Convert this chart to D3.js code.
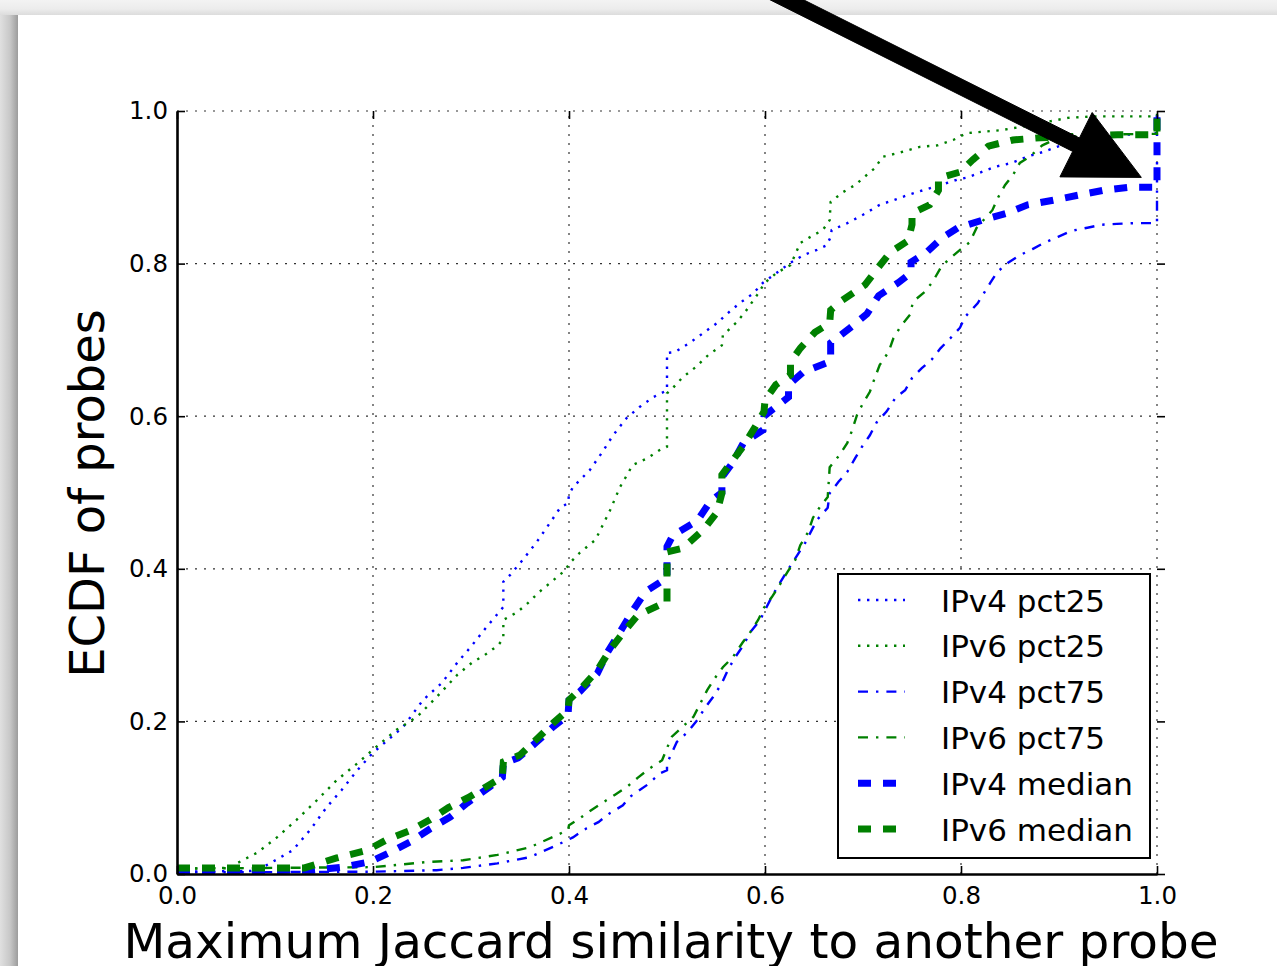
<!DOCTYPE html>
<html>
<head>
<meta charset="utf-8">
<script src="https://cdn.jsdelivr.net/npm/d3@7"></script>
<style>
  html, body { margin: 0; padding: 0; background: #efefef; overflow: hidden; }
  svg { display: block; }
  text { font-family: "DejaVu Sans", sans-serif; fill: #000; }
</style>
</head>
<body>
<svg id="chart" width="1277" height="966"></svg>
<script>
// ---- data: ECDF curves as [similarity, fraction of probes] ----
const xTicks = [0.0, 0.2, 0.4, 0.6, 0.8, 1.0];
const yTicks = [0.0, 0.2, 0.4, 0.6, 0.8, 1.0];

const ipv4Pct25 = [[0,0.003],[0.08,0.004],[0.095,0.014],[0.118,0.031],[0.136,0.058],[0.153,0.088],[0.168,0.11],[0.184,0.136],[0.2,0.159],[0.231,0.193],[0.251,0.228],[0.27,0.25],[0.286,0.277],[0.3,0.298],[0.316,0.324],[0.322,0.333],[0.333,0.35],[0.333,0.383],[0.34,0.392],[0.353,0.412],[0.367,0.435],[0.381,0.461],[0.391,0.48],[0.399,0.486],[0.4,0.497],[0.404,0.507],[0.421,0.529],[0.434,0.553],[0.445,0.575],[0.459,0.598],[0.472,0.612],[0.486,0.625],[0.5,0.634],[0.5,0.683],[0.508,0.684],[0.523,0.696],[0.537,0.709],[0.551,0.722],[0.562,0.735],[0.574,0.748],[0.588,0.761],[0.598,0.775],[0.612,0.788],[0.626,0.801],[0.639,0.811],[0.653,0.818],[0.663,0.824],[0.667,0.835],[0.668,0.844],[0.684,0.853],[0.7,0.864],[0.717,0.877],[0.731,0.883],[0.746,0.89],[0.761,0.896],[0.779,0.903],[0.796,0.91],[0.807,0.913],[0.819,0.919],[0.835,0.927],[0.852,0.932],[0.867,0.94],[0.883,0.946],[0.898,0.953],[0.913,0.959],[0.94,0.964],[0.97,0.969],[0.993,0.971],[1.0,0.971],[1.0,1.0]];

const ipv6Pct25 = [[0,0.007],[0.055,0.008],[0.061,0.014],[0.082,0.028],[0.102,0.048],[0.122,0.071],[0.143,0.097],[0.163,0.123],[0.184,0.145],[0.2,0.163],[0.224,0.189],[0.245,0.206],[0.265,0.232],[0.286,0.261],[0.301,0.277],[0.314,0.287],[0.328,0.3],[0.333,0.309],[0.333,0.333],[0.347,0.343],[0.358,0.355],[0.37,0.37],[0.384,0.385],[0.396,0.398],[0.401,0.408],[0.411,0.421],[0.427,0.438],[0.442,0.477],[0.452,0.507],[0.465,0.536],[0.48,0.545],[0.493,0.556],[0.5,0.56],[0.5,0.63],[0.506,0.637],[0.516,0.651],[0.529,0.664],[0.542,0.68],[0.556,0.693],[0.557,0.706],[0.571,0.723],[0.58,0.737],[0.592,0.759],[0.6,0.775],[0.612,0.788],[0.626,0.798],[0.636,0.827],[0.649,0.837],[0.659,0.844],[0.666,0.857],[0.667,0.881],[0.68,0.894],[0.692,0.903],[0.7,0.912],[0.712,0.925],[0.72,0.94],[0.736,0.945],[0.758,0.953],[0.776,0.955],[0.792,0.962],[0.806,0.971],[0.842,0.975],[0.873,0.982],[0.909,0.991],[0.935,0.993],[0.99,0.993],[1.0,0.993],[1.0,1.0]];

const ipv4Pct75 = [[0,0.002],[0.2,0.003],[0.265,0.005],[0.292,0.008],[0.327,0.014],[0.36,0.022],[0.388,0.038],[0.404,0.048],[0.418,0.06],[0.43,0.068],[0.442,0.08],[0.455,0.09],[0.462,0.101],[0.48,0.117],[0.493,0.132],[0.5,0.136],[0.5,0.145],[0.51,0.173],[0.521,0.186],[0.531,0.202],[0.539,0.218],[0.547,0.232],[0.556,0.25],[0.562,0.267],[0.569,0.283],[0.578,0.3],[0.585,0.317],[0.595,0.333],[0.608,0.366],[0.615,0.381],[0.623,0.398],[0.633,0.418],[0.641,0.434],[0.653,0.464],[0.664,0.48],[0.666,0.499],[0.675,0.514],[0.684,0.527],[0.692,0.545],[0.699,0.56],[0.707,0.575],[0.714,0.592],[0.724,0.606],[0.733,0.624],[0.743,0.634],[0.75,0.65],[0.76,0.663],[0.77,0.674],[0.779,0.689],[0.789,0.702],[0.799,0.716],[0.804,0.73],[0.817,0.748],[0.83,0.775],[0.837,0.789],[0.848,0.801],[0.86,0.811],[0.873,0.819],[0.886,0.828],[0.899,0.835],[0.913,0.843],[0.929,0.847],[0.944,0.851],[0.959,0.852],[0.976,0.853],[0.991,0.853],[1.0,0.853],[1.0,1.0]];

const ipv6Pct75 = [[0,0.007],[0.2,0.009],[0.258,0.016],[0.292,0.018],[0.327,0.025],[0.36,0.035],[0.388,0.051],[0.399,0.058],[0.4,0.064],[0.411,0.073],[0.423,0.084],[0.435,0.094],[0.447,0.104],[0.459,0.114],[0.47,0.126],[0.483,0.139],[0.495,0.149],[0.5,0.165],[0.505,0.18],[0.516,0.193],[0.527,0.206],[0.541,0.241],[0.549,0.257],[0.557,0.271],[0.567,0.284],[0.577,0.303],[0.585,0.317],[0.593,0.333],[0.599,0.349],[0.607,0.363],[0.615,0.379],[0.623,0.396],[0.631,0.412],[0.636,0.431],[0.644,0.448],[0.649,0.467],[0.656,0.481],[0.664,0.494],[0.666,0.533],[0.676,0.549],[0.684,0.565],[0.689,0.582],[0.694,0.602],[0.7,0.617],[0.707,0.632],[0.712,0.65],[0.717,0.667],[0.726,0.684],[0.731,0.702],[0.738,0.717],[0.748,0.733],[0.751,0.75],[0.763,0.763],[0.771,0.776],[0.779,0.794],[0.787,0.805],[0.799,0.818],[0.809,0.828],[0.816,0.847],[0.832,0.87],[0.838,0.887],[0.845,0.903],[0.853,0.916],[0.86,0.932],[0.87,0.94],[0.883,0.955],[0.9,0.965],[0.94,0.969],[0.993,0.97],[1.0,0.97],[1.0,1.0]];

const ipv4Median = [[0,0.004],[0.139,0.005],[0.169,0.009],[0.197,0.016],[0.217,0.028],[0.238,0.042],[0.258,0.059],[0.279,0.075],[0.296,0.093],[0.319,0.114],[0.332,0.127],[0.333,0.145],[0.348,0.152],[0.367,0.173],[0.384,0.193],[0.399,0.208],[0.4,0.228],[0.411,0.239],[0.429,0.263],[0.439,0.29],[0.452,0.317],[0.464,0.343],[0.478,0.37],[0.496,0.385],[0.5,0.386],[0.5,0.429],[0.506,0.444],[0.531,0.463],[0.544,0.488],[0.556,0.5],[0.556,0.52],[0.567,0.539],[0.578,0.565],[0.598,0.582],[0.599,0.6],[0.61,0.611],[0.624,0.625],[0.624,0.641],[0.639,0.658],[0.663,0.67],[0.667,0.672],[0.667,0.696],[0.687,0.716],[0.704,0.734],[0.716,0.758],[0.736,0.775],[0.749,0.788],[0.749,0.802],[0.765,0.815],[0.781,0.834],[0.797,0.847],[0.822,0.857],[0.847,0.866],[0.868,0.877],[0.894,0.883],[0.921,0.89],[0.945,0.896],[0.972,0.9],[1.0,0.9],[1.0,1.0]];

const ipv6Median = [[0,0.008],[0.13,0.008],[0.163,0.021],[0.194,0.031],[0.214,0.045],[0.238,0.057],[0.258,0.071],[0.277,0.087],[0.297,0.1],[0.319,0.117],[0.332,0.127],[0.333,0.147],[0.35,0.156],[0.368,0.178],[0.384,0.198],[0.399,0.215],[0.4,0.228],[0.413,0.244],[0.429,0.267],[0.442,0.294],[0.455,0.316],[0.47,0.339],[0.493,0.353],[0.5,0.353],[0.5,0.422],[0.516,0.427],[0.537,0.451],[0.551,0.474],[0.556,0.499],[0.556,0.523],[0.564,0.537],[0.578,0.561],[0.59,0.586],[0.599,0.606],[0.6,0.621],[0.611,0.641],[0.626,0.654],[0.626,0.671],[0.636,0.689],[0.651,0.71],[0.666,0.722],[0.667,0.739],[0.679,0.752],[0.702,0.772],[0.715,0.794],[0.728,0.815],[0.746,0.83],[0.75,0.851],[0.75,0.866],[0.768,0.877],[0.777,0.896],[0.777,0.912],[0.799,0.92],[0.812,0.936],[0.828,0.954],[0.853,0.962],[0.881,0.965],[0.96,0.969],[1.0,0.969],[1.0,1.0]];

const seriesLabels = ["IPv4 pct25", "IPv6 pct25", "IPv4 pct75", "IPv6 pct75", "IPv4 median", "IPv6 median"];
const seriesValues = [ipv4Pct25, ipv6Pct25, ipv4Pct75, ipv6Pct75, ipv4Median, ipv6Median];

// call-out arrow, in data units (tail sits above the axes)
const arrowTail = [0.541, 1.198];
const arrowTip = [0.984, 0.913];

// ---- styles ----
const BLUE = "#0000ff", GREEN = "#008000";
const styles = [
  { color: BLUE,  width: 2.4, dash: "2.4,6.6" },
  { color: GREEN, width: 2.4, dash: "2.4,6.6" },
  { color: BLUE,  width: 2.4, dash: "10,8,2.4,8" },
  { color: GREEN, width: 2.4, dash: "10,8,2.4,8" },
  { color: BLUE,  width: 7,   dash: "13,12" },
  { color: GREEN, width: 7,   dash: "13,12" }
];

const W = 1277, H = 966;
const plot = { left: 177, right: 1157, top: 111, bottom: 874 };

const svg = d3.select("#chart");
const defs = svg.append("defs");

// slide card with a soft shadow on its left and top edges
const gLeft = defs.append("linearGradient").attr("id", "shadeLeft")
  .attr("x1", 0).attr("x2", 1).attr("y1", 0).attr("y2", 0);
gLeft.append("stop").attr("offset", 0).attr("stop-color", "#e0e0e0");
gLeft.append("stop").attr("offset", 0.55).attr("stop-color", "#c8c8c8");
gLeft.append("stop").attr("offset", 1).attr("stop-color", "#9c9c9c");
const gTop = defs.append("linearGradient").attr("id", "shadeTop")
  .attr("x1", 0).attr("x2", 0).attr("y1", 0).attr("y2", 1);
gTop.append("stop").attr("offset", 0).attr("stop-color", "#f3f3f3");
gTop.append("stop").attr("offset", 0.6).attr("stop-color", "#ececec");
gTop.append("stop").attr("offset", 1).attr("stop-color", "#dcdcdc");

svg.append("rect").attr("width", W).attr("height", H).attr("fill", "#efefef");
svg.append("rect").attr("x", 0).attr("y", 10).attr("width", 18).attr("height", H)
  .attr("fill", "url(#shadeLeft)");
svg.append("rect").attr("x", 0).attr("y", 0).attr("width", W).attr("height", 15)
  .attr("fill", "url(#shadeTop)");
svg.append("rect").attr("x", 18).attr("y", 15).attr("width", W).attr("height", H)
  .attr("fill", "#ffffff");

const x = d3.scaleLinear().domain([0, 1]).range([plot.left, plot.right]);
const y = d3.scaleLinear().domain([0, 1]).range([plot.bottom, plot.top]);
const fmt = d3.format(".1f");

// dotted grid
const grid = svg.append("g").attr("class", "grid")
  .attr("stroke", "#000").attr("stroke-width", 1.2)
  .attr("stroke-dasharray", "2,7").attr("opacity", 0.8);
grid.selectAll("line.v").data(xTicks.filter(d => d > 0)).join("line")
  .attr("class", "v")
  .attr("x1", d => x(d)).attr("x2", d => x(d))
  .attr("y1", y(0)).attr("y2", y(1));
grid.selectAll("line.h").data(yTicks.filter(d => d > 0)).join("line")
  .attr("class", "h")
  .attr("x1", x(0)).attr("x2", x(1))
  .attr("y1", d => y(d)).attr("y2", d => y(d));

// ECDF curves
const line = d3.line().x(d => x(d[0])).y(d => y(d[1]));
svg.append("g").selectAll("path").data(seriesValues).join("path")
  .attr("d", line)
  .attr("fill", "none")
  .attr("stroke", (d, i) => styles[i].color)
  .attr("stroke-width", (d, i) => styles[i].width)
  .attr("stroke-dasharray", (d, i) => styles[i].dash)
  .attr("stroke-linejoin", "miter");

// axes: labelled left and bottom, tick-only top and right
function styleAxis(g, showDomain) {
  g.selectAll(".tick line").attr("stroke", "#000").attr("stroke-width", 1.6);
  g.selectAll(".tick text").attr("font-size", 24.5).attr("font-family", "DejaVu Sans").attr("fill", "#000");
  if (showDomain) g.select(".domain").attr("stroke", "#000").attr("stroke-width", 2.6);
  else g.select(".domain").remove();
}
svg.append("g").attr("transform", `translate(${plot.left},0)`)
  .call(d3.axisLeft(y).tickValues(yTicks).tickFormat(fmt).tickSize(-8).tickSizeOuter(0).tickPadding(9))
  .call(g => styleAxis(g, true));
svg.append("g").attr("transform", `translate(0,${plot.bottom})`)
  .call(d3.axisBottom(x).tickValues(xTicks).tickFormat(fmt).tickSize(-8).tickSizeOuter(0).tickPadding(13))
  .call(g => styleAxis(g, true));
svg.append("g").attr("transform", `translate(0,${plot.top})`)
  .call(d3.axisTop(x).tickValues(xTicks).tickFormat("").tickSize(-8).tickSizeOuter(0))
  .call(g => styleAxis(g, false));
svg.append("g").attr("transform", `translate(${plot.right},0)`)
  .call(d3.axisRight(y).tickValues(yTicks).tickFormat("").tickSize(8).tickSizeOuter(0))
  .call(g => styleAxis(g, false));

// axis titles
svg.append("text")
  .attr("x", (plot.left + plot.right) / 2 + 4).attr("y", 958)
  .attr("text-anchor", "middle").attr("font-size", 48.5)
  .text("Maximum Jaccard similarity to another probe");
svg.append("text")
  .attr("transform", `translate(104,${(plot.top + plot.bottom) / 2 + 1}) rotate(-90)`)
  .attr("text-anchor", "middle").attr("font-size", 48)
  .text("ECDF of probes");

// legend
const legend = svg.append("g").attr("transform", "translate(838,574)");
legend.append("rect").attr("width", 312).attr("height", 284)
  .attr("fill", "#fff").attr("stroke", "#000").attr("stroke-width", 2);
const rows = legend.selectAll("g.row").data(seriesLabels).join("g")
  .attr("class", "row")
  .attr("transform", (d, i) => `translate(0,${26 + i * 45.8})`);
rows.append("line")
  .attr("x1", 20).attr("x2", 67).attr("y1", 0).attr("y2", 0)
  .attr("stroke", (d, i) => styles[i].color)
  .attr("stroke-width", (d, i) => styles[i].width)
  .attr("stroke-dasharray", (d, i) => styles[i].dash);
rows.append("text")
  .attr("x", 103).attr("y", 11.5)
  .attr("font-size", 31)
  .text(d => d);

// call-out arrow
(function drawArrow() {
  const p0 = [x(arrowTail[0]), y(arrowTail[1])];
  const p1 = [x(arrowTip[0]), y(arrowTip[1])];
  const dx = p1[0] - p0[0], dy = p1[1] - p0[1];
  const len = Math.hypot(dx, dy);
  const ux = dx / len, uy = dy / len, nx = -uy, ny = ux;
  const headLen = 73, headHalf = 36, shaftHalf = 7.5;
  const bx = p1[0] - ux * headLen, by = p1[1] - uy * headLen;
  const pts = [
    [p0[0] + nx * shaftHalf, p0[1] + ny * shaftHalf],
    [bx + nx * shaftHalf, by + ny * shaftHalf],
    [bx + nx * headHalf, by + ny * headHalf],
    p1,
    [bx - nx * headHalf, by - ny * headHalf],
    [bx - nx * shaftHalf, by - ny * shaftHalf],
    [p0[0] - nx * shaftHalf, p0[1] - ny * shaftHalf]
  ];
  svg.append("path")
    .attr("d", d3.line()(pts) + "Z")
    .attr("fill", "#000").attr("stroke", "#000").attr("stroke-width", 1);
})();
</script>
</body>
</html>
